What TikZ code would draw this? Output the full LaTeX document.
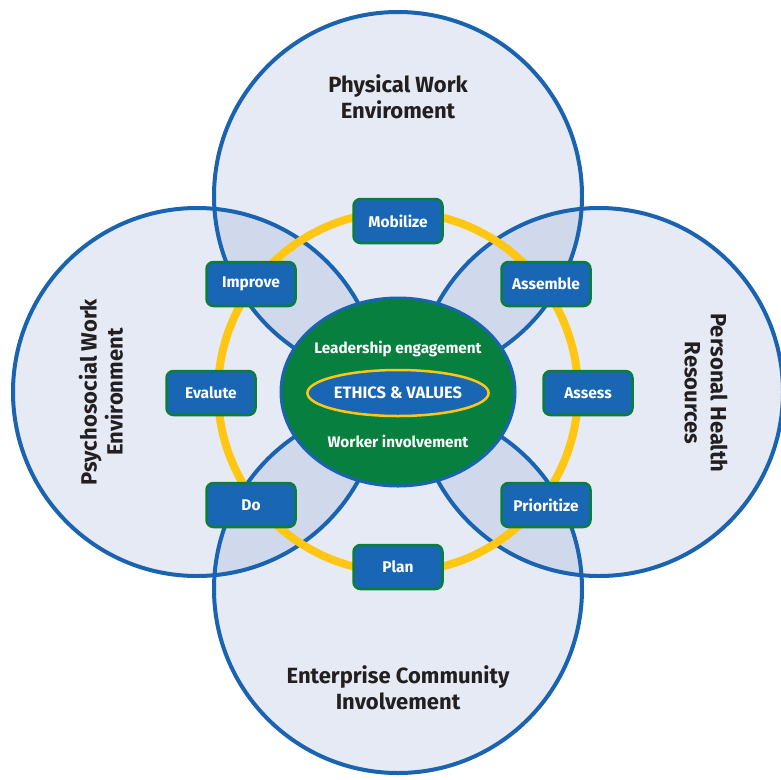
\documentclass[tikz,border=0pt]{standalone}
\usepackage{fontspec}
\setmainfont{Fira Sans}
\usepackage{xcolor}
\usetikzlibrary{shapes.geometric}
\definecolor{rimblue}{HTML}{1A63B0}
\definecolor{domainfill}{HTML}{E5EAF5}
\definecolor{lensfill}{HTML}{D0D9EC}
\definecolor{coregreen}{HTML}{07803F}
\definecolor{stageblue}{HTML}{1866B4}
\definecolor{stagegreen}{HTML}{0B7E3E}
\definecolor{cycleyellow}{HTML}{FFC714}
\definecolor{labelgray}{HTML}{231F20}
\tikzset{
  domainzone/.style={fill=domainfill},
  overlapzone/.style={fill=lensfill},
  rim/.style={draw=rimblue, line width=4pt},
  cycleband/.style={draw=cycleyellow, line width=8pt},
  stage/.style={rectangle, rounded corners=7pt, draw=stagegreen, line width=2.5pt,
    fill=stageblue, text=white, font=\bfseries\fontsize{15.5}{16}\selectfont,
    minimum width=89pt, minimum height=44pt, inner sep=0pt},
  domainlabel/.style={text=labelgray, font=\bfseries\fontsize{22}{26}\selectfont, align=center},
  corelabel/.style={text=white, font=\bfseries\fontsize{15.3}{16}\selectfont},
}

\begin{document}
\begin{tikzpicture}[x=1pt, y=-1pt]
  \useasboundingbox (0,0) rectangle (781,779);
  \coordinate (hub) at (398,392);
  \coordinate (physical) at (398,196);
  \coordinate (enterprise) at (398,589);
  \coordinate (psycho) at (197,392);
  \coordinate (personal) at (599,392);

  % four domains
  \foreach \c in {physical,enterprise,psycho,personal}
    \fill[domainzone] (\c) circle (184pt);
  \foreach \a in {physical,enterprise}{
    \begin{scope}
      \clip (\a) circle (184pt);
      \fill[overlapzone] (psycho) circle (184pt);
      \fill[overlapzone] (personal) circle (184pt);
    \end{scope}
  }
  \foreach \c in {physical,enterprise,psycho,personal}
    \draw[rim] (\c) circle (184pt);

  % improvement cycle
  \draw[cycleband] (hub) circle (180pt);

  % core
  \draw[fill=coregreen, draw=rimblue, line width=3pt] (hub) ellipse (117pt and 94pt);
  \node[ellipse, draw=cycleyellow, fill=stageblue, line width=2.5pt, minimum width=159pt,
    minimum height=46pt, inner sep=0pt, corelabel, font=\bfseries\fontsize{16.5}{18}\selectfont]
    (ethics) at (398,393) {ETHICS \& VALUES};
  \node[corelabel] (leadership) at (398,349) {Leadership engagement};
  \node[corelabel] (worker) at (398,441) {Worker involvement};

  % stages
  \node[stage] (mobilize) at (398,221) {Mobilize};
  \node[stage] (assemble) at (546,284) {Assemble};
  \node[stage] (assess) at (588,393) {Assess};
  \node[stage] (prioritize) at (546,505) {Prioritize};
  \node[stage] (plan) at (398,567) {Plan};
  \node[stage] (do) at (251,505) {Do};
  \node[stage] (evalute) at (211,393) {Evalute};
  \node[stage] (improve) at (251,284) {Improve};

  % domain labels
  \node[domainlabel] (physlabel) at (398,97) {Physical Work\\Enviroment};
  \node[domainlabel] (entlabel) at (398,688) {Enterprise Community\\Involvement};
  \node[domainlabel, rotate=90] (psycholabel) at (101,392) {Psychosocial Work\\Environment};
  \node[domainlabel, rotate=-90] (perslabel) at (706,393) {Personal Health\\Resources};
\end{tikzpicture}
\end{document}
